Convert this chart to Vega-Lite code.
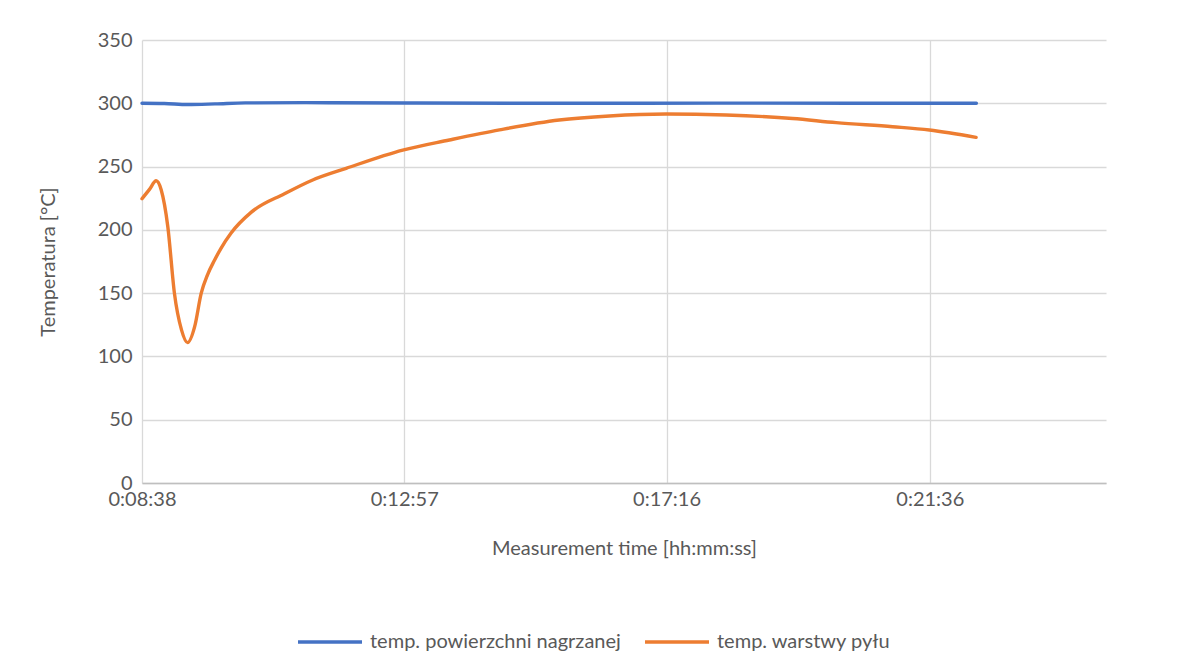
{
  "$schema": "https://vega.github.io/schema/vega-lite/v6.json",
  "autosize": "none",
  "width": 964,
  "height": 443,
  "padding": {"left": 142, "top": 40, "right": 97, "bottom": 172},
  "background": "white",
  "config": {
    "font": "Lato",
    "view": {"stroke": null},
    "axis": {"labelFont": "Lato", "titleFont": "Lato", "labelColor": "#595959", "titleColor": "#595959", "labelFontSize": 20, "titleFontSize": 20, "titleFontWeight": "normal", "gridColor": "#d9d9d9", "gridWidth": 1.3, "ticks": false},
    "legend": {"labelFont": "Lato", "labelFontSize": 20, "labelColor": "#595959", "labelLimit": 500}
  },
  "data": {
    "values": [
      {"t": 518, "series": "temp. powierzchni nagrzanej", "value": 300},
      {"t": 540, "series": "temp. powierzchni nagrzanej", "value": 299.8},
      {"t": 563, "series": "temp. powierzchni nagrzanej", "value": 299.0},
      {"t": 590, "series": "temp. powierzchni nagrzanej", "value": 299.5},
      {"t": 620, "series": "temp. powierzchni nagrzanej", "value": 300.3},
      {"t": 680, "series": "temp. powierzchni nagrzanej", "value": 300.5},
      {"t": 780, "series": "temp. powierzchni nagrzanej", "value": 300.2},
      {"t": 900, "series": "temp. powierzchni nagrzanej", "value": 300.0},
      {"t": 1100, "series": "temp. powierzchni nagrzanej", "value": 300.1},
      {"t": 1342, "series": "temp. powierzchni nagrzanej", "value": 300.0},
      {"t": 518, "series": "temp. warstwy pyłu", "value": 224.6},
      {"t": 525.4, "series": "temp. warstwy pyłu", "value": 232},
      {"t": 532, "series": "temp. warstwy pyłu", "value": 238.8},
      {"t": 537, "series": "temp. warstwy pyłu", "value": 231.5},
      {"t": 543.5, "series": "temp. warstwy pyłu", "value": 202.5},
      {"t": 550, "series": "temp. warstwy pyłu", "value": 150},
      {"t": 557, "series": "temp. warstwy pyłu", "value": 121},
      {"t": 563, "series": "temp. warstwy pyłu", "value": 110.9},
      {"t": 570, "series": "temp. warstwy pyłu", "value": 123.5},
      {"t": 576.5, "series": "temp. warstwy pyłu", "value": 150},
      {"t": 582.7, "series": "temp. warstwy pyłu", "value": 164.5},
      {"t": 589.6, "series": "temp. warstwy pyłu", "value": 176},
      {"t": 596, "series": "temp. warstwy pyłu", "value": 185.4},
      {"t": 606, "series": "temp. warstwy pyłu", "value": 197.5},
      {"t": 626, "series": "temp. warstwy pyłu", "value": 214},
      {"t": 658.7, "series": "temp. warstwy pyłu", "value": 228.5},
      {"t": 686.6, "series": "temp. warstwy pyłu", "value": 239.4},
      {"t": 719.6, "series": "temp. warstwy pyłu", "value": 248.6},
      {"t": 775.5, "series": "temp. warstwy pyłu", "value": 263},
      {"t": 821.6, "series": "temp. warstwy pyłu", "value": 271},
      {"t": 871, "series": "temp. warstwy pyłu", "value": 279},
      {"t": 930, "series": "temp. warstwy pyłu", "value": 286.8},
      {"t": 979.6, "series": "temp. warstwy pyłu", "value": 290},
      {"t": 1035.6, "series": "temp. warstwy pyłu", "value": 291.5},
      {"t": 1094.8, "series": "temp. warstwy pyłu", "value": 290.7},
      {"t": 1160.6, "series": "temp. warstwy pyłu", "value": 288},
      {"t": 1203.5, "series": "temp. warstwy pyłu", "value": 284.7},
      {"t": 1259.3, "series": "temp. warstwy pyłu", "value": 281.5},
      {"t": 1295.6, "series": "temp. warstwy pyłu", "value": 278.9},
      {"t": 1341.7, "series": "temp. warstwy pyłu", "value": 273.1}
    ]
  },
  "mark": {"type": "line", "interpolate": "monotone", "strokeWidth": 3.4, "strokeCap": "round"},
  "encoding": {
    "x": {
      "field": "t",
      "type": "quantitative",
      "scale": {"domain": [518, 1470], "nice": false, "zero": false},
      "axis": {
        "title": "Measurement time [hh:mm:ss]",
        "values": [518, 777, 1036, 1296],
        "labelExpr": "utcFormat(datum.value * 1000, '%-H:%M:%S')",
        "labelPadding": 6,
        "titlePadding": 29,
        "domainColor": "#bfbfbf",
        "domainWidth": 1.3,
        "labelFlush": false
      }
    },
    "y": {
      "field": "value",
      "type": "quantitative",
      "scale": {"domain": [0, 350], "nice": false},
      "axis": {
        "title": "Temperatura [°C]",
        "values": [0, 50, 100, 150, 200, 250, 300, 350],
        "domain": false,
        "labelPadding": 10,
        "titlePadding": 39
      }
    },
    "color": {
      "field": "series",
      "type": "nominal",
      "scale": {"domain": ["temp. powierzchni nagrzanej", "temp. warstwy pyłu"], "range": ["#4472C4", "#ED7D31"]},
      "legend": {
        "title": null,
        "orient": "none",
        "direction": "horizontal",
        "legendX": 154,
        "legendY": 568,
        "symbolType": "stroke",
        "symbolSize": 4096,
        "symbolStrokeWidth": 3.4,
        "labelOffset": 6,
        "columnPadding": 17
      }
    }
  }
}
